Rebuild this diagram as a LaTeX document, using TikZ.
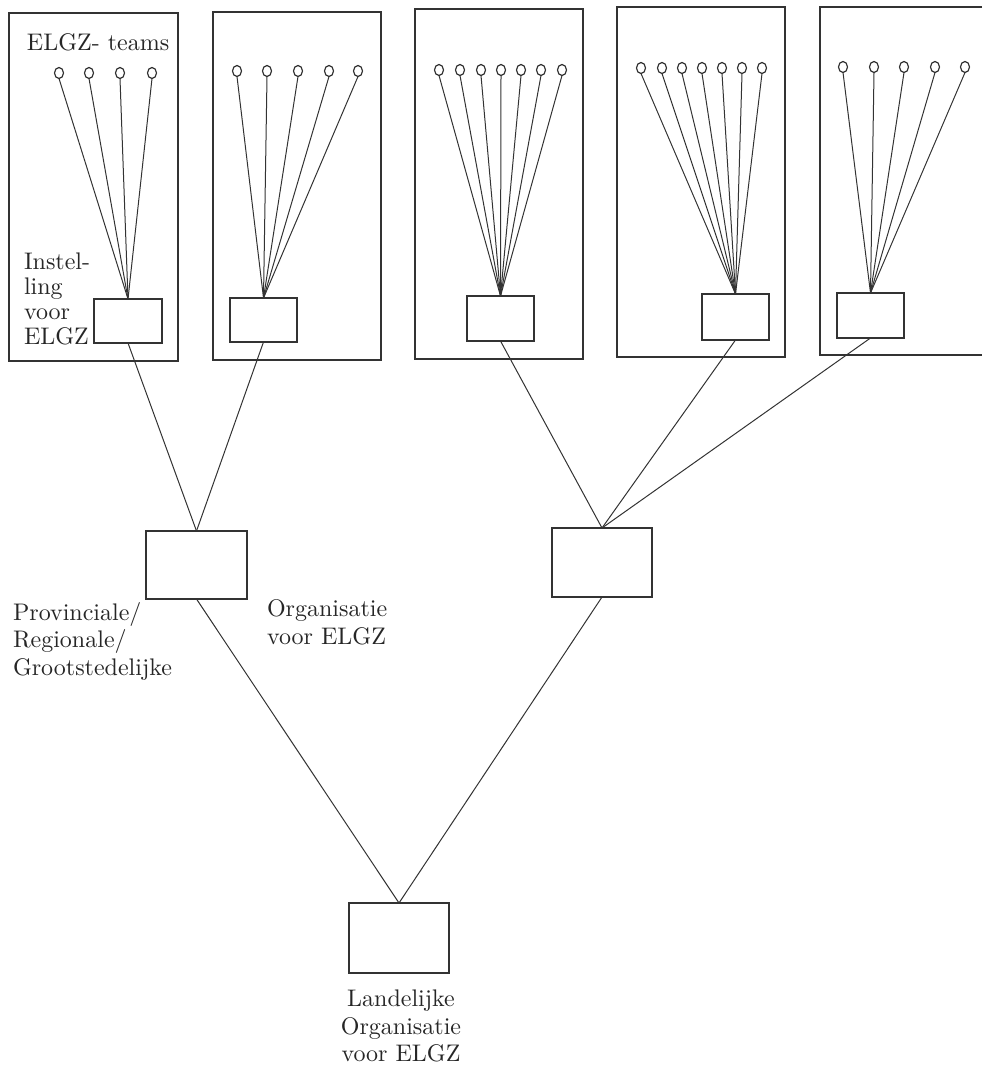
\documentclass[tikz,border=0pt]{standalone}
\usetikzlibrary{shapes.geometric}
\font\lblfnt="[lmroman10-regular]" at 24pt
\begin{document}
\begin{tikzpicture}[x=1pt,y=-1pt,
  line width=1.1pt,
  every node/.style={inner sep=0pt, outer sep=0pt},
  frame/.style={draw=black!80, rectangle},
  unit/.style={draw=black!80, rectangle, fill=white},
  team/.style={draw=black!80, ellipse, minimum width=9pt, minimum height=11pt, line width=1.2pt},
  link/.style={draw=black!80, line width=1pt},
  lbl/.style={font=\fontsize{24}{27.5}\selectfont\lblfnt, align=left, text=black!85}]
\useasboundingbox (0,0) rectangle (982,1067);

% outer frames
\node[frame, minimum width=169pt, minimum height=348pt] (B1) at (93.5,187) {};
\node[frame, minimum width=168pt, minimum height=348pt] (B2) at (297,186) {};
\node[frame, minimum width=168pt, minimum height=350pt] (B3) at (499,184) {};
\node[frame, minimum width=168pt, minimum height=350pt] (B4) at (701,182) {};
\coordinate (B5a) at (982,7);
\coordinate (B5b) at (820,7);
\coordinate (B5c) at (820,355);
\coordinate (B5d) at (982,355);
\draw[draw=black!80] (B5a) -- (B5b) -- (B5c) -- (B5d);

% institution boxes
\node[unit, minimum width=68pt, minimum height=44pt] (I1) at (128,321) {};
\node[unit, minimum width=67pt, minimum height=44pt] (I2) at (263.5,320) {};
\node[unit, minimum width=67pt, minimum height=45pt] (I3) at (500.5,318.5) {};
\node[unit, minimum width=67pt, minimum height=46pt] (I4) at (735.5,317) {};
\node[unit, minimum width=67pt, minimum height=45pt] (I5) at (870.5,315.5) {};

% teams
\foreach \x [count=\k] in {59,89,120,152}
  {\node[team] (T1-\k) at (\x,73) {}; \draw[link] (T1-\k.south) -- (I1.north);}
\foreach \x [count=\k] in {237,267,298,329,358}
  {\node[team] (T2-\k) at (\x,71) {}; \draw[link] (T2-\k.south) -- (I2.north);}
\foreach \x [count=\k] in {439,460,481,501,521,541,562}
  {\node[team] (T3-\k) at (\x,70) {}; \draw[link] (T3-\k.south) -- (I3.north);}
\foreach \x [count=\k] in {641,662,682,702,722,742,762}
  {\node[team] (T4-\k) at (\x,68) {}; \draw[link] (T4-\k.south) -- (I4.north);}
\foreach \x [count=\k] in {843,874,904,935,965}
  {\node[team] (T5-\k) at (\x,67) {}; \draw[link] (T5-\k.south) -- (I5.north);}

% regional organisations
\node[unit, minimum width=101pt, minimum height=68pt] (R1) at (196.5,565) {};
\node[unit, minimum width=100pt, minimum height=69pt] (R2) at (602,562.5) {};

% national organisation
\node[unit, minimum width=100pt, minimum height=70pt] (N) at (399,938) {};

% connectors
\draw[link] (I1.south) -- (R1.north);
\draw[link] (I2.south) -- (R1.north);
\draw[link] (I3.south) -- (R2.north);
\draw[link] (I4.south) -- (R2.north);
\draw[link] (I5.south) -- (R2.north);
\draw[link] (R1.south) -- (N.north);
\draw[link] (R2.south) -- (N.north);

% labels
\node[lbl, anchor=north west] (L1) at (27,33.5) {ELGZ- teams};
\node[lbl, anchor=north west, font=\fontsize{24}{25}\selectfont\lblfnt] (L2) at (24,253) {Instel-\\ling\\voor\\ELGZ};
\node[lbl, anchor=north west] (L3) at (13,602) {Provinciale/\\Regionale/\\Grootstedelijke};
\node[lbl, anchor=north west] (L4) at (267,600) {Organisatie\\voor ELGZ};
\node[lbl, anchor=north, align=center] (L5) at (401,990) {Landelijke\\Organisatie\\voor ELGZ};
\end{tikzpicture}
\end{document}
